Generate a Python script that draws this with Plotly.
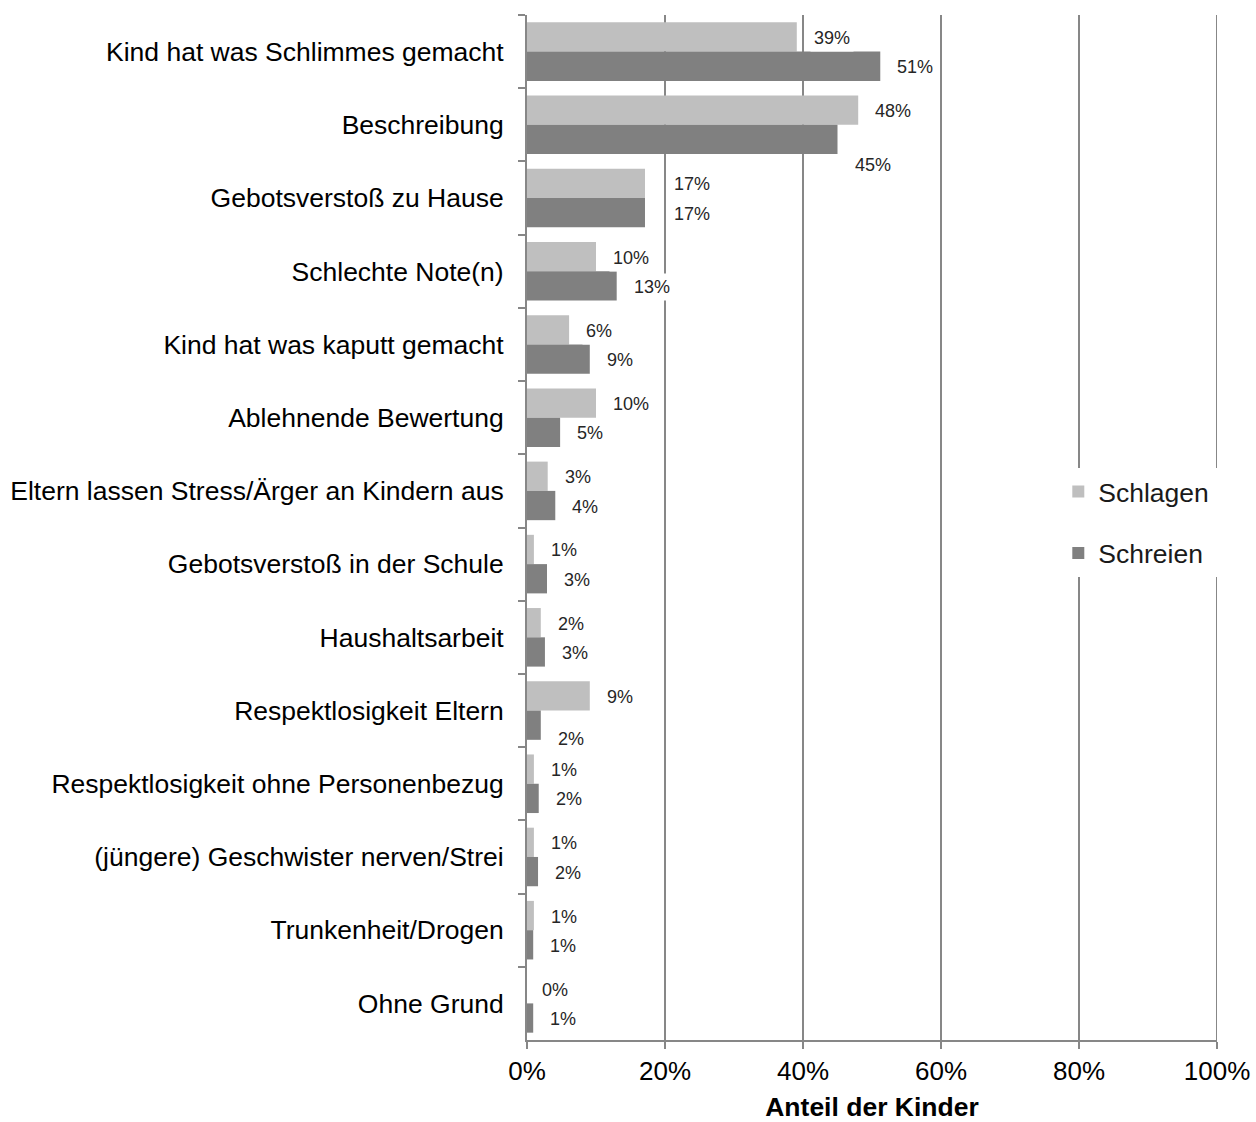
import plotly.graph_objects as go

categories = [
    "Kind hat was Schlimmes gemacht",
    "Beschreibung",
    "Gebotsverstoß zu Hause",
    "Schlechte Note(n)",
    "Kind hat was kaputt gemacht",
    "Ablehnende Bewertung",
    "Eltern lassen Stress/Ärger an Kindern aus",
    "Gebotsverstoß in der Schule",
    "Haushaltsarbeit",
    "Respektlosigkeit Eltern",
    "Respektlosigkeit ohne Personenbezug",
    "(jüngere) Geschwister nerven/Strei",
    "Trunkenheit/Drogen",
    "Ohne Grund",
]
schlagen = [39.1, 48.0, 17.1, 10.0, 6.1, 10.0, 3.0, 1.0, 2.0, 9.1, 1.0, 1.0, 1.0, 0.0]
schreien = [51.2, 45.0, 17.1, 13.0, 9.1, 4.8, 4.1, 2.9, 2.6, 2.0, 1.7, 1.6, 0.9, 0.9]
x_ticks = [0, 20, 40, 60, 80, 100]
x_ticktext = ["0%", "20%", "40%", "60%", "80%", "100%"]

series = [("Schlagen", schlagen, "#bfbfbf", -0.2), ("Schreien", schreien, "#808080", 0.2)]

# label nudges (pixels): (series, category index) -> (extra xshift, yshift)
label_nudges = {
    ("Schreien", 1): (0, -25),
    ("Schlagen", 2): (12, 0),
    ("Schreien", 2): (12, 0),
    ("Schreien", 9): (0, -13),
    ("Schlagen", 13): (-2, 0),
}

FONT = "Arial, 'Liberation Sans', sans-serif"
GRID = "#878787"
NBSP_PAD = "\u00a0" * 3  # widens the white legend box so it hides the 100% gridline

fig = go.Figure()
for name, vals, color, off in series:
    fig.add_trace(go.Bar(
        name=name + NBSP_PAD, y=categories, x=vals, orientation="h",
        marker=dict(color=color, line=dict(width=0)),
        legendgroup=name,
        hoverinfo="skip",
    ))

annotations = []
pad = 3
for name, vals, color, off in series:
    for idx, v in enumerate(vals):
        dx, dy = label_nudges.get((name, idx), (0, 0))
        annotations.append(dict(
            x=v, y=idx + off, xref="x", yref="y",
            text=f"{round(v):d}%", showarrow=False,
            xanchor="left", yanchor="middle",
            xshift=16 - pad + dx, yshift=-1 + dy,
            font=dict(family=FONT, size=18, color="#262626"),
            bgcolor="white", borderpad=pad,
        ))

fig.update_layout(
    width=1256, height=1122,
    margin=dict(l=527, r=39, t=15, b=82, autoexpand=False),
    paper_bgcolor="white", plot_bgcolor="white",
    barmode="group", bargap=0.2, bargroupgap=0,
    font=dict(family=FONT, size=26, color="#000000"),
    annotations=annotations,
    shapes=[dict(type="line", xref="x", yref="paper", x0=100, x1=100, y0=0, y1=1,
                 line=dict(color=GRID, width=2), layer="below")],
    legend=dict(
        x=0.77, y=0.505, xanchor="left", yanchor="middle",
        bgcolor="white", borderwidth=0,
        font=dict(family=FONT, size=26.5, color="#1a1a1a"),
        traceorder="grouped", tracegroupgap=24,
    ),
    xaxis=dict(
        range=[0, 100], tickvals=x_ticks, ticktext=x_ticktext,
        showgrid=True, gridcolor=GRID, gridwidth=2,
        zeroline=False, showline=True, linecolor=GRID, linewidth=2,
        ticks="outside", ticklen=7, tickwidth=2, tickcolor=GRID,
        tickfont=dict(family=FONT, size=26, color="#000000"),
        title=dict(text="<b>Anteil der Kinder</b>", standoff=12,
                   font=dict(family=FONT, size=26.5, color="#000000")),
        automargin=False,
    ),
    yaxis=dict(
        type="category", autorange="reversed",
        showgrid=False, zeroline=False,
        showline=True, linecolor=GRID, linewidth=2,
        ticks="outside", ticklen=7, tickwidth=2, tickcolor=GRID,
        tickson="boundaries", ticklabelstandoff=16,
        tickfont=dict(family=FONT, size=26.5, color="#000000"),
        automargin=False,
    ),
)

fig.write_html("out.html")
